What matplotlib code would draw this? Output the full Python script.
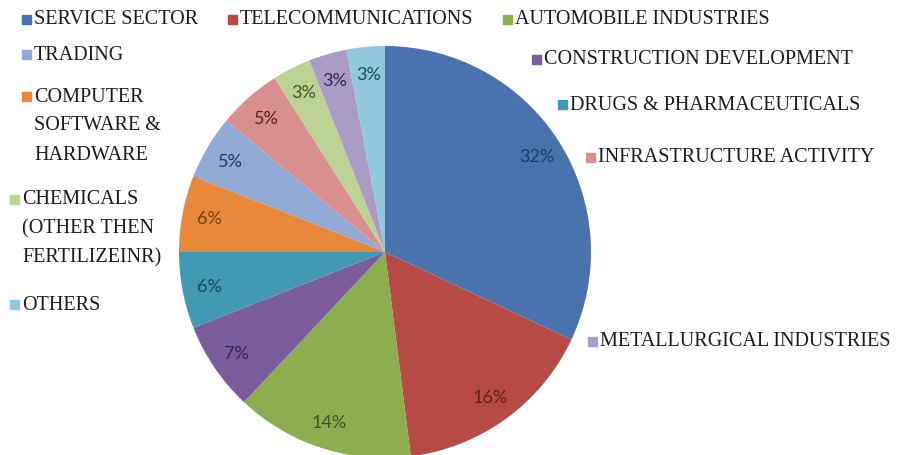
import matplotlib.pyplot as plt
from matplotlib.patches import Rectangle

# sector shares (%), clockwise from 12 o'clock
sectors = ['SERVICE SECTOR', 'TELECOMMUNICATIONS', 'AUTOMOBILE INDUSTRIES',
           'CONSTRUCTION DEVELOPMENT', 'DRUGS & PHARMACEUTICALS',
           'COMPUTER\nSOFTWARE &\nHARDWARE', 'TRADING', 'INFRASTRUCTURE ACTIVITY',
           'CHEMICALS\n(OTHER THEN\nFERTILIZEINR)', 'METALLURGICAL INDUSTRIES', 'OTHERS']
shares = [32, 16, 14, 7, 6, 6, 5, 5, 3, 3, 3]

colors = ['#4A73AE', '#B64A45', '#8DAE4F', '#7A5C9C', '#4199B3', '#E8883A',
          '#93A9D6', '#D8908E', '#BCD396', '#AB9CC6', '#90C8DE']
label_colors = ['#1F3A66', '#5E1F1C', '#3F5220', '#352648', '#1D4A58', '#7A3A08',
                '#1F3A66', '#5E1F1C', '#3F5220', '#352648', '#1D4A58']

# legend entry anchor points in pixels (x of square, y of first line)
legend_pos = [(22, 20), (228, 20), (503, 20), (532, 60), (558, 105), (22, 97),
              (22, 55), (586, 158), (10, 200), (588, 342), (10, 305)]

W, H = 913, 456
fig = plt.figure(figsize=(W / 100, H / 100), dpi=100)
fig.patch.set_facecolor('white')

cx, cy, r = 385, 253, 206
ax = fig.add_axes([(cx - r) / W, 1 - (cy + r) / H, 2 * r / W, 2 * r / H])
wedges, texts, autotexts = ax.pie(shares, colors=colors, startangle=90, counterclock=False,
                                  autopct='%d%%', pctdistance=0.87,
                                  wedgeprops=dict(linewidth=0))
for t, c in zip(autotexts, label_colors):
    t.set_color(c)
    t.set_fontsize(13)
    t.set_fontfamily('Lato')
ax.set_xlim(-1, 1)
ax.set_ylim(-1, 1)
ax.set_aspect('equal')
ax.axis('off')

line_h = 29
for name, col, (px, py) in zip(sectors, colors, legend_pos):
    sq = 9
    fig.add_artist(Rectangle((px / W, 1 - (py + sq / 2) / H), sq / W, sq / H,
                             transform=fig.transFigure, color=col))
    for i, line in enumerate(name.split('\n')):
        fig.text((px + 12) / W, 1 - (py + i * line_h) / H, line,
                 fontsize=14.5, family='Liberation Serif', color='#1a1a1a',
                 va='center', ha='left')

fig.savefig('out.png', dpi=100)
